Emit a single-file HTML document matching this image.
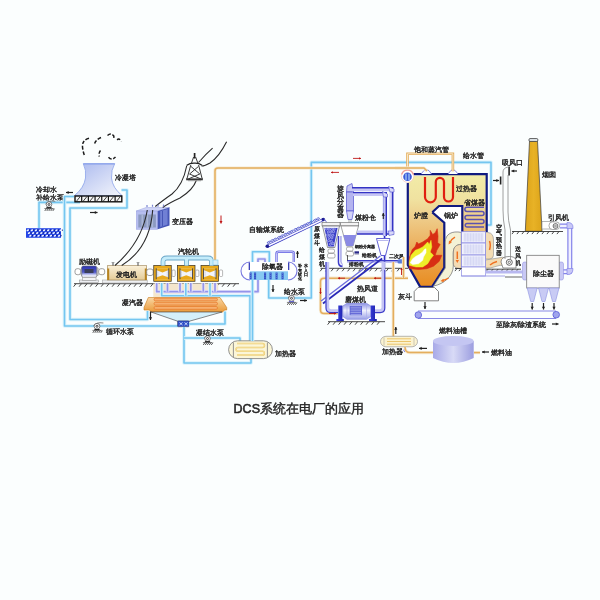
<!DOCTYPE html><html><head><meta charset="utf-8"><style>html,body{margin:0;padding:0;background:#fbfefe;}svg{display:block;font-family:"Liberation Sans",sans-serif;will-change:transform;}</style></head><body>
<svg width="600" height="600" viewBox="0 0 600 600">
<defs>
<linearGradient id="gTower" x1="0" y1="0" x2="1" y2="1"><stop offset="0" stop-color="#a9b8ee"/><stop offset="1" stop-color="#f4f6fc"/></linearGradient>
<linearGradient id="gGen" x1="0" y1="0" x2="0" y2="1"><stop offset="0" stop-color="#faf0d8"/><stop offset="1" stop-color="#e4cc98"/></linearGradient>
<linearGradient id="gCond" x1="0" y1="0" x2="0" y2="1"><stop offset="0" stop-color="#f9d7a4"/><stop offset="1" stop-color="#ea9a3a"/></linearGradient>
<linearGradient id="gBoil" x1="0" y1="0" x2="0" y2="1"><stop offset="0" stop-color="#f2eca8"/><stop offset="0.22" stop-color="#f0e2a0"/><stop offset="0.4" stop-color="#eecb88"/><stop offset="0.7" stop-color="#eba852"/><stop offset="1" stop-color="#e88c20"/></linearGradient>
<linearGradient id="gFurn" x1="0" y1="0" x2="0" y2="1"><stop offset="0" stop-color="#f0d898" stop-opacity="0"/><stop offset="0.15" stop-color="#f0c080"/><stop offset="1" stop-color="#e88a1c"/></linearGradient>
<linearGradient id="gTank" x1="0" y1="0" x2="1" y2="0"><stop offset="0" stop-color="#a8aae8"/><stop offset="0.5" stop-color="#d8daf6"/><stop offset="1" stop-color="#9c9ee0"/></linearGradient>
<linearGradient id="gChim" x1="0" y1="0" x2="1" y2="0"><stop offset="0" stop-color="#dca41a"/><stop offset="0.5" stop-color="#e8b226"/><stop offset="1" stop-color="#dca41a"/></linearGradient>
<linearGradient id="gTrans" x1="0" y1="0" x2="0" y2="1"><stop offset="0" stop-color="#c8ccf4"/><stop offset="1" stop-color="#a8b0e8"/></linearGradient>
</defs>
<rect width="600" height="600" fill="#fbfefe"/>
<g fill="none" stroke="#1a1a1a" stroke-width="1.5" stroke-dasharray="3.6 1.8"><path d="M89 138.3 Q82 140 82.5 147 Q83 152 84.7 156"/><path d="M101 137.5 Q95 140 94.3 145"/><path d="M100.5 150.5 Q98.5 153 99.3 156.5"/><path d="M107.5 135.5 Q111 132.5 113.8 136 L114 139"/><path d="M117.2 140 Q119 137.5 121.5 141.5"/><path d="M108.5 157.3 Q111.5 161 115.5 157"/></g>
<path d="M83.3 163.7 L114.7 163.7 Q111 170 111.5 178 Q112.5 188 122 195.5 L74.5 195.5 Q84 188 85.5 178 Q86.5 170 83.3 163.7 Z" fill="url(#gTower)" stroke="#8aa2ea" stroke-width="0.8"/>
<path d="M83.3 163.9 L114.7 163.9" stroke="#8aa2ea" stroke-width="1.2"/>
<text x="115" y="179.5" font-size="7" fill="#222" stroke="#222" stroke-width="0.35" text-anchor="start" font-weight="normal">冷凝塔</text>
<text x="35.5" y="191.5" font-size="6.8" fill="#222" stroke="#222" stroke-width="0.35" text-anchor="start" font-weight="normal">冷却水</text>
<text x="35.5" y="199.5" font-size="6.8" fill="#222" stroke="#222" stroke-width="0.35" text-anchor="start" font-weight="normal">补给水泵</text>
<line x1="73" y1="192.5" x2="66" y2="192.5" stroke="#222" stroke-width="1.2"/><path d="M66 192.5L68.70 194.12L68.70 190.88Z" fill="#222"/>
<line x1="90" y1="212.5" x2="97.5" y2="212.5" stroke="#222" stroke-width="1.2"/><path d="M97.5 212.5L94.80 210.88L94.80 214.12Z" fill="#222"/>
<rect x="26" y="228.2" width="35" height="9.6" fill="#2446e6"/><ellipse cx="27.8" cy="230.3" rx="1.4" ry="0.8" fill="#f0f4ff" transform="rotate(-30 27.8 230.3)"/><rect x="29.1" y="229.5" width="1.1" height="1.4" fill="#0a1480"/><ellipse cx="31.9" cy="230.3" rx="1.4" ry="0.8" fill="#f0f4ff" transform="rotate(-30 31.9 230.3)"/><rect x="33.2" y="229.5" width="1.1" height="1.4" fill="#0a1480"/><ellipse cx="36.0" cy="230.3" rx="1.4" ry="0.8" fill="#f0f4ff" transform="rotate(-30 36.0 230.3)"/><rect x="37.3" y="229.5" width="1.1" height="1.4" fill="#0a1480"/><ellipse cx="40.1" cy="230.3" rx="1.4" ry="0.8" fill="#f0f4ff" transform="rotate(-30 40.1 230.3)"/><rect x="41.4" y="229.5" width="1.1" height="1.4" fill="#0a1480"/><ellipse cx="44.2" cy="230.3" rx="1.4" ry="0.8" fill="#f0f4ff" transform="rotate(-30 44.2 230.3)"/><rect x="45.5" y="229.5" width="1.1" height="1.4" fill="#0a1480"/><ellipse cx="48.3" cy="230.3" rx="1.4" ry="0.8" fill="#f0f4ff" transform="rotate(-30 48.3 230.3)"/><rect x="49.6" y="229.5" width="1.1" height="1.4" fill="#0a1480"/><ellipse cx="52.4" cy="230.3" rx="1.4" ry="0.8" fill="#f0f4ff" transform="rotate(-30 52.4 230.3)"/><rect x="53.7" y="229.5" width="1.1" height="1.4" fill="#0a1480"/><ellipse cx="56.5" cy="230.3" rx="1.4" ry="0.8" fill="#f0f4ff" transform="rotate(-30 56.5 230.3)"/><rect x="57.8" y="229.5" width="1.1" height="1.4" fill="#0a1480"/><ellipse cx="60.6" cy="230.3" rx="1.4" ry="0.8" fill="#f0f4ff" transform="rotate(-30 60.6 230.3)"/><rect x="61.9" y="229.5" width="1.1" height="1.4" fill="#0a1480"/><ellipse cx="29.1" cy="233.0" rx="1.4" ry="0.8" fill="#f0f4ff" transform="rotate(-30 29.1 233.0)"/><rect x="30.4" y="232.2" width="1.1" height="1.4" fill="#0a1480"/><ellipse cx="33.2" cy="233.0" rx="1.4" ry="0.8" fill="#f0f4ff" transform="rotate(-30 33.2 233.0)"/><rect x="34.5" y="232.2" width="1.1" height="1.4" fill="#0a1480"/><ellipse cx="37.3" cy="233.0" rx="1.4" ry="0.8" fill="#f0f4ff" transform="rotate(-30 37.3 233.0)"/><rect x="38.6" y="232.2" width="1.1" height="1.4" fill="#0a1480"/><ellipse cx="41.4" cy="233.0" rx="1.4" ry="0.8" fill="#f0f4ff" transform="rotate(-30 41.4 233.0)"/><rect x="42.7" y="232.2" width="1.1" height="1.4" fill="#0a1480"/><ellipse cx="45.5" cy="233.0" rx="1.4" ry="0.8" fill="#f0f4ff" transform="rotate(-30 45.5 233.0)"/><rect x="46.8" y="232.2" width="1.1" height="1.4" fill="#0a1480"/><ellipse cx="49.6" cy="233.0" rx="1.4" ry="0.8" fill="#f0f4ff" transform="rotate(-30 49.6 233.0)"/><rect x="50.9" y="232.2" width="1.1" height="1.4" fill="#0a1480"/><ellipse cx="53.7" cy="233.0" rx="1.4" ry="0.8" fill="#f0f4ff" transform="rotate(-30 53.7 233.0)"/><rect x="55.0" y="232.2" width="1.1" height="1.4" fill="#0a1480"/><ellipse cx="57.8" cy="233.0" rx="1.4" ry="0.8" fill="#f0f4ff" transform="rotate(-30 57.8 233.0)"/><rect x="59.1" y="232.2" width="1.1" height="1.4" fill="#0a1480"/><ellipse cx="30.4" cy="235.7" rx="1.4" ry="0.8" fill="#f0f4ff" transform="rotate(-30 30.4 235.7)"/><rect x="31.7" y="234.9" width="1.1" height="1.4" fill="#0a1480"/><ellipse cx="34.5" cy="235.7" rx="1.4" ry="0.8" fill="#f0f4ff" transform="rotate(-30 34.5 235.7)"/><rect x="35.8" y="234.9" width="1.1" height="1.4" fill="#0a1480"/><ellipse cx="38.6" cy="235.7" rx="1.4" ry="0.8" fill="#f0f4ff" transform="rotate(-30 38.6 235.7)"/><rect x="39.9" y="234.9" width="1.1" height="1.4" fill="#0a1480"/><ellipse cx="42.7" cy="235.7" rx="1.4" ry="0.8" fill="#f0f4ff" transform="rotate(-30 42.7 235.7)"/><rect x="44.0" y="234.9" width="1.1" height="1.4" fill="#0a1480"/><ellipse cx="46.8" cy="235.7" rx="1.4" ry="0.8" fill="#f0f4ff" transform="rotate(-30 46.8 235.7)"/><rect x="48.1" y="234.9" width="1.1" height="1.4" fill="#0a1480"/><ellipse cx="50.9" cy="235.7" rx="1.4" ry="0.8" fill="#f0f4ff" transform="rotate(-30 50.9 235.7)"/><rect x="52.2" y="234.9" width="1.1" height="1.4" fill="#0a1480"/><ellipse cx="55.0" cy="235.7" rx="1.4" ry="0.8" fill="#f0f4ff" transform="rotate(-30 55.0 235.7)"/><rect x="56.3" y="234.9" width="1.1" height="1.4" fill="#0a1480"/><ellipse cx="59.1" cy="235.7" rx="1.4" ry="0.8" fill="#f0f4ff" transform="rotate(-30 59.1 235.7)"/><rect x="60.4" y="234.9" width="1.1" height="1.4" fill="#0a1480"/>
<path d="M39 228 L39 202.4 L80 202.4" fill="none" stroke="#daf2fb" stroke-width="3.6" stroke-linejoin="round"/><path d="M39 228 L39 202.4 L80 202.4" fill="none" stroke="#74c6f0" stroke-width="1.6" stroke-linejoin="round"/>
<path d="M74 196.5 L64.5 196.5 L64.5 326 L178 326" fill="none" stroke="#daf2fb" stroke-width="3.6" stroke-linejoin="round"/><path d="M74 196.5 L64.5 196.5 L64.5 326 L178 326" fill="none" stroke="#74c6f0" stroke-width="1.6" stroke-linejoin="round"/>
<path d="M121.5 190 L127 190 L127 208 L70 208 L70 319.5 L147.5 319.5 L147.5 311" fill="none" stroke="#daf2fb" stroke-width="3.6" stroke-linejoin="round"/><path d="M121.5 190 L127 190 L127 208 L70 208 L70 319.5 L147.5 319.5 L147.5 311" fill="none" stroke="#74c6f0" stroke-width="1.6" stroke-linejoin="round"/>
<path d="M45.7 204.2 Q48 200.1 55.3 201.29999999999998" fill="none" stroke="#666" stroke-width="0.8"/><circle cx="49" cy="204.5" r="2.8" fill="#f8f9fb" stroke="#555" stroke-width="0.75"/><circle cx="49" cy="204.5" r="1.0" fill="none" stroke="#222" stroke-width="0.8"/><rect x="46.4" y="207.10000000000002" width="5.2" height="1.3" fill="#222"/><path d="M44.4 208.5 L53.8 208.5" stroke="#333" stroke-width="0.6"/><path d="M46.4 208.7l-1.6 2.2M48.4 208.7l-1.6 2.2M50.4 208.7l-1.6 2.2M52.4 208.7l-1.6 2.2M54.4 208.7l-1.6 2.2" stroke="#222" stroke-width="0.8" fill="none"/>
<rect x="75" y="196" width="46.8" height="5.8" fill="#f4f4f4" stroke="#111" stroke-width="1.4"/><line x1="76.50" y1="201.2" x2="80.20" y2="196.6" stroke="#111" stroke-width="0.8"/><line x1="81.69" y1="196" x2="81.69" y2="201.8" stroke="#111" stroke-width="1.2"/><line x1="83.19" y1="201.2" x2="86.89" y2="196.6" stroke="#111" stroke-width="0.8"/><line x1="88.37" y1="196" x2="88.37" y2="201.8" stroke="#111" stroke-width="1.2"/><line x1="89.87" y1="201.2" x2="93.57" y2="196.6" stroke="#111" stroke-width="0.8"/><line x1="95.06" y1="196" x2="95.06" y2="201.8" stroke="#111" stroke-width="1.2"/><line x1="96.56" y1="201.2" x2="100.26" y2="196.6" stroke="#111" stroke-width="0.8"/><line x1="101.74" y1="196" x2="101.74" y2="201.8" stroke="#111" stroke-width="1.2"/><line x1="103.24" y1="201.2" x2="106.94" y2="196.6" stroke="#111" stroke-width="0.8"/><line x1="108.43" y1="196" x2="108.43" y2="201.8" stroke="#111" stroke-width="1.2"/><line x1="109.93" y1="201.2" x2="113.63" y2="196.6" stroke="#111" stroke-width="0.8"/><line x1="115.11" y1="196" x2="115.11" y2="201.8" stroke="#111" stroke-width="1.2"/><line x1="116.61" y1="201.2" x2="120.31" y2="196.6" stroke="#111" stroke-width="0.8"/>
<path d="M93.6 326.0 Q96 321.8 103.4 323.00000000000006" fill="none" stroke="#666" stroke-width="0.8"/><circle cx="97" cy="326.3" r="2.9" fill="#f8f9fb" stroke="#555" stroke-width="0.75"/><circle cx="97" cy="326.3" r="1.0" fill="none" stroke="#222" stroke-width="0.8"/><rect x="94.4" y="329.0" width="5.2" height="1.3" fill="#222"/><path d="M92.4 330.4 L101.8 330.4" stroke="#333" stroke-width="0.6"/><path d="M94.4 330.6l-1.6 2.2M96.4 330.6l-1.6 2.2M98.4 330.6l-1.6 2.2M100.4 330.6l-1.6 2.2M102.4 330.6l-1.6 2.2" stroke="#222" stroke-width="0.8" fill="none"/>
<text x="106" y="334" font-size="6.8" fill="#222" stroke="#222" stroke-width="0.35" text-anchor="start" font-weight="normal">循环水泵</text>
<line x1="74" y1="283.7" x2="239" y2="283.7" stroke="#333" stroke-width="0.9"/><path d="M76.0 283.7l-2.4 3.0M81.5 283.7l-2.4 3.0M87.0 283.7l-2.4 3.0M92.5 283.7l-2.4 3.0M98.0 283.7l-2.4 3.0M103.5 283.7l-2.4 3.0M109.0 283.7l-2.4 3.0M114.5 283.7l-2.4 3.0M120.0 283.7l-2.4 3.0M125.5 283.7l-2.4 3.0M131.0 283.7l-2.4 3.0M136.5 283.7l-2.4 3.0M142.0 283.7l-2.4 3.0M147.5 283.7l-2.4 3.0M153.0 283.7l-2.4 3.0M158.5 283.7l-2.4 3.0M164.0 283.7l-2.4 3.0M169.5 283.7l-2.4 3.0M175.0 283.7l-2.4 3.0M180.5 283.7l-2.4 3.0M186.0 283.7l-2.4 3.0M191.5 283.7l-2.4 3.0M197.0 283.7l-2.4 3.0M202.5 283.7l-2.4 3.0M208.0 283.7l-2.4 3.0M213.5 283.7l-2.4 3.0M219.0 283.7l-2.4 3.0M224.5 283.7l-2.4 3.0M230.0 283.7l-2.4 3.0M235.5 283.7l-2.4 3.0" stroke="#333" stroke-width="0.9" fill="none"/>
<defs><linearGradient id="gExc" x1="0" y1="0" x2="0" y2="1"><stop offset="0" stop-color="#2c34b0"/><stop offset="0.55" stop-color="#5058c8"/><stop offset="0.8" stop-color="#d8dcf6"/><stop offset="1" stop-color="#ffffff"/></linearGradient></defs>
<rect x="79.3" y="280" width="19" height="2.6" fill="#eceef2" stroke="#888" stroke-width="0.5"/>
<rect x="82.5" y="276.5" width="13.5" height="3.8" fill="#f4f4f6" stroke="#888" stroke-width="0.5"/>
<rect x="75" y="268.7" width="5.7" height="6" rx="2.2" fill="#fff" stroke="#777" stroke-width="0.7"/>
<path d="M80.5 269.5 L82 267.5 L82 276 L80.5 274 Z M97.5 267.5 L99 269.5 L99 274 L97.5 276 Z" fill="#f0f0f4" stroke="#888" stroke-width="0.5"/>
<rect x="81.7" y="266" width="15" height="11.3" rx="1.5" fill="url(#gExc)" stroke="#666" stroke-width="0.6"/>
<rect x="84.5" y="269" width="9" height="4" fill="#3a3e5a"/>
<rect x="98.7" y="268.7" width="6" height="6" rx="2.2" fill="#fff" stroke="#777" stroke-width="0.7"/>
<text x="79" y="264" font-size="6.8" fill="#222" stroke="#222" stroke-width="0.35" text-anchor="start" font-weight="normal">励磁机</text>
<rect x="102.7" y="280" width="44.5" height="3" fill="#eef0f2" stroke="#999" stroke-width="0.5"/>
<rect x="107.3" y="265.7" width="39.4" height="14.3" fill="url(#gGen)" stroke="#9a8050" stroke-width="0.6"/>
<rect x="107.3" y="268.5" width="1.9" height="11.5" fill="#b88420"/>
<rect x="144.8" y="268.5" width="1.9" height="11.5" fill="#b88420"/>
<path d="M113 265.7 l0 -3.5 M138 265.7 l0 -3.5" stroke="#666" stroke-width="1.2"/>
<path d="M111.5 262.5 l3 0 M136.5 262.5 l3 0" stroke="#888" stroke-width="0.6"/>
<text x="126.8" y="276.5" font-size="6.8" fill="#222" stroke="#222" stroke-width="0.35" text-anchor="middle" font-weight="normal">发电机</text>
<rect x="146.7" y="269" width="6.5" height="6.5" rx="2.2" fill="#fff" stroke="#777" stroke-width="0.7"/>
<rect x="153.75" y="265.4" width="17.5" height="15.9" fill="#e9aa1c" stroke="#3a3020" stroke-width="0.7"/><rect x="156.25" y="268.3" width="12.5" height="10.899999999999977" fill="#f2f4fb"/><path d="M156.25 268.3 L168.75 268.3 L168.75 269.90000000000003 L162.5 272.6 L156.25 269.90000000000003 Z" fill="#e9aa1c"/><path d="M156.25 279.2 L168.75 279.2 L168.75 277.59999999999997 L162.5 275.2 L156.25 277.59999999999997 Z" fill="#e9aa1c"/><path d="M156.25 268.3 L156.25 279.2 M168.75 268.3 L168.75 279.2" stroke="#2a3040" stroke-width="0.8"/><path d="M157.75 270.5 l0 6.5 M167.25 270.5 l0 6.5" stroke="#8890a0" stroke-width="0.6" stroke-dasharray="0.9 1.1"/>
<rect x="177.5" y="265.4" width="17.5" height="15.9" fill="#e9aa1c" stroke="#3a3020" stroke-width="0.7"/><rect x="180.0" y="268.3" width="12.5" height="10.899999999999977" fill="#f2f4fb"/><path d="M180.0 268.3 L192.5 268.3 L192.5 269.90000000000003 L186.25 272.6 L180.0 269.90000000000003 Z" fill="#e9aa1c"/><path d="M180.0 279.2 L192.5 279.2 L192.5 277.59999999999997 L186.25 275.2 L180.0 277.59999999999997 Z" fill="#e9aa1c"/><path d="M180.0 268.3 L180.0 279.2 M192.5 268.3 L192.5 279.2" stroke="#2a3040" stroke-width="0.8"/><path d="M181.5 270.5 l0 6.5 M191.0 270.5 l0 6.5" stroke="#8890a0" stroke-width="0.6" stroke-dasharray="0.9 1.1"/>
<rect x="201.0" y="265.4" width="17.5" height="15.9" fill="#e9aa1c" stroke="#3a3020" stroke-width="0.7"/><rect x="203.5" y="268.3" width="12.5" height="10.899999999999977" fill="#f2f4fb"/><path d="M203.5 268.3 L216.0 268.3 L216.0 269.90000000000003 L209.75 272.6 L203.5 269.90000000000003 Z" fill="#e9aa1c"/><path d="M203.5 279.2 L216.0 279.2 L216.0 277.59999999999997 L209.75 275.2 L203.5 277.59999999999997 Z" fill="#e9aa1c"/><path d="M203.5 268.3 L203.5 279.2 M216.0 268.3 L216.0 279.2" stroke="#2a3040" stroke-width="0.8"/><path d="M205.0 270.5 l0 6.5 M214.5 270.5 l0 6.5" stroke="#8890a0" stroke-width="0.6" stroke-dasharray="0.9 1.1"/>
<rect x="172.0" y="270" width="3.2" height="6.5" rx="1" fill="#fff" stroke="#888" stroke-width="0.6"/>
<rect x="195.70000000000002" y="270" width="3.2" height="6.5" rx="1" fill="#fff" stroke="#888" stroke-width="0.6"/>
<rect x="219.4" y="270" width="3.2" height="6.5" rx="1" fill="#fff" stroke="#888" stroke-width="0.6"/>
<text x="177.5" y="253.5" font-size="6.8" fill="#222" stroke="#222" stroke-width="0.35" text-anchor="start" font-weight="normal">汽轮机</text>
<path d="M163 265.5 L163 261.5 Q163 258 167 258 L208 258 Q211.5 258 211.5 261.5 L211.5 265.5 M186.5 258 L186.5 265.5" fill="none" stroke="#6aa6c8" stroke-width="4.8"/>
<path d="M163 265.5 L163 261.5 Q163 258 167 258 L208 258 Q211.5 258 211.5 261.5 L211.5 265.5 M186.5 258 L186.5 265.5" fill="none" stroke="#c4ecfa" stroke-width="3.2"/>
<rect x="153.3" y="283.5" width="65" height="13.5" fill="#f4e6cc"/>
<path d="M156.7 283 L156.7 291.7 L258 291.7 L258 259 L265 259 L265 265" fill="none" stroke="#e6e6fa" stroke-width="3.6" stroke-linejoin="round"/><path d="M156.7 283 L156.7 291.7 L258 291.7 L258 259 L265 259 L265 265" fill="none" stroke="#9494ea" stroke-width="1.7" stroke-linejoin="round"/>
<path d="M167.5 283 L167.5 291.7" fill="none" stroke="#e6e6fa" stroke-width="3.6" stroke-linejoin="round"/><path d="M167.5 283 L167.5 291.7" fill="none" stroke="#9494ea" stroke-width="1.7" stroke-linejoin="round"/>
<path d="M180 283 L180 291.7" fill="none" stroke="#e6e6fa" stroke-width="3.6" stroke-linejoin="round"/><path d="M180 283 L180 291.7" fill="none" stroke="#9494ea" stroke-width="1.7" stroke-linejoin="round"/>
<path d="M190.8 283 L190.8 291.7" fill="none" stroke="#e6e6fa" stroke-width="3.6" stroke-linejoin="round"/><path d="M190.8 283 L190.8 291.7" fill="none" stroke="#9494ea" stroke-width="1.7" stroke-linejoin="round"/>
<path d="M203.3 283 L203.3 291.7" fill="none" stroke="#e6e6fa" stroke-width="3.6" stroke-linejoin="round"/><path d="M203.3 283 L203.3 291.7" fill="none" stroke="#9494ea" stroke-width="1.7" stroke-linejoin="round"/>
<path d="M215 283 L215 291.7" fill="none" stroke="#e6e6fa" stroke-width="3.6" stroke-linejoin="round"/><path d="M215 283 L215 291.7" fill="none" stroke="#9494ea" stroke-width="1.7" stroke-linejoin="round"/>
<path d="M161.7 283 L161.7 295.8 L250 295.8 L250 341" fill="none" stroke="#daf2fb" stroke-width="3.6" stroke-linejoin="round"/><path d="M161.7 283 L161.7 295.8 L250 295.8 L250 341" fill="none" stroke="#74c6f0" stroke-width="1.6" stroke-linejoin="round"/>
<path d="M185.8 283 L185.8 295.8" fill="none" stroke="#daf2fb" stroke-width="3.6" stroke-linejoin="round"/><path d="M185.8 283 L185.8 295.8" fill="none" stroke="#74c6f0" stroke-width="1.6" stroke-linejoin="round"/>
<path d="M210 283 L210 295.8" fill="none" stroke="#daf2fb" stroke-width="3.6" stroke-linejoin="round"/><path d="M210 283 L210 295.8" fill="none" stroke="#74c6f0" stroke-width="1.6" stroke-linejoin="round"/>
<path d="M148.3 297.5 L220 297.5 L226.7 307.5 L226.7 310 L224.5 310 L223 312 L151 312 L149.5 310 L144 310 L144 307.5 Z" fill="url(#gCond)" stroke="#c87818" stroke-width="0.6"/>
<rect x="154" y="298.09999999999997" width="63.5" height="2.8" rx="1.4" fill="#f6b070" stroke="#e77e30" stroke-width="0.8"/>
<rect x="154" y="302.3" width="63.5" height="2.8" rx="1.4" fill="#f6b070" stroke="#e77e30" stroke-width="0.8"/>
<rect x="154" y="306.5" width="63.5" height="2.8" rx="1.4" fill="#f6b070" stroke="#e77e30" stroke-width="0.8"/>
<path d="M151 312 L222 312 L186.5 322 L180 322 Z" fill="#d4f0fa" stroke="#555" stroke-width="0.7"/>
<rect x="177.5" y="320.8" width="11.7" height="6" rx="1" fill="#2f4fc8" stroke="#223" stroke-width="0.4"/>
<path d="M179.5 322.5 l3 2.5 M182.5 322.5 l-3 2.5 M184.5 322.5 l3 2.5 M187.5 322.5 l-3 2.5" stroke="#e8f0ff" stroke-width="0.8" fill="none"/>
<line x1="150.5" y1="311.5" x2="150.5" y2="320" stroke="#222" stroke-width="1.2"/><path d="M150.5 320L152.12 317.30L148.88 317.30Z" fill="#222"/>
<path d="M225 311.5 L225 324 L189 324" fill="none" stroke="#daf2fb" stroke-width="3.6" stroke-linejoin="round"/><path d="M225 311.5 L225 324 L189 324" fill="none" stroke="#74c6f0" stroke-width="1.6" stroke-linejoin="round"/>
<text x="121.7" y="304.5" font-size="6.8" fill="#222" stroke="#222" stroke-width="0.35" text-anchor="start" font-weight="normal">凝汽器</text>
<path d="M184 327 L184 363 L251 363 L251 358" fill="none" stroke="#daf2fb" stroke-width="3.6" stroke-linejoin="round"/><path d="M184 327 L184 363 L251 363 L251 358" fill="none" stroke="#74c6f0" stroke-width="1.6" stroke-linejoin="round"/>
<path d="M184 338 L240 338 L240 342" fill="none" stroke="#daf2fb" stroke-width="3.6" stroke-linejoin="round"/><path d="M184 338 L240 338 L240 342" fill="none" stroke="#74c6f0" stroke-width="1.6" stroke-linejoin="round"/>
<path d="M204.2 338.2 Q206.5 334.09999999999997 213.8 335.3" fill="none" stroke="#666" stroke-width="0.8"/><circle cx="207.5" cy="338.5" r="2.8" fill="#f8f9fb" stroke="#555" stroke-width="0.75"/><circle cx="207.5" cy="338.5" r="1.0" fill="none" stroke="#222" stroke-width="0.8"/><rect x="204.9" y="341.1" width="5.2" height="1.3" fill="#222"/><path d="M202.9 342.5 L212.3 342.5" stroke="#333" stroke-width="0.6"/><path d="M204.9 342.7l-1.6 2.2M206.9 342.7l-1.6 2.2M208.9 342.7l-1.6 2.2M210.9 342.7l-1.6 2.2M212.9 342.7l-1.6 2.2" stroke="#222" stroke-width="0.8" fill="none"/>
<text x="196" y="334.5" font-size="6.8" fill="#222" stroke="#222" stroke-width="0.35" text-anchor="start" font-weight="normal">凝结水泵</text>
<path d="M237.5 340.8 L263.5 340.8 A8.9 8.9 0 0 1 263.5 358.6 L237.5 358.6 A8.9 8.9 0 0 1 237.5 340.8 Z" fill="#fbf6d8" stroke="#777" stroke-width="0.8"/>
<path d="M233.4 342.5 L233.4 357 M267.4 342.5 L267.4 357" stroke="#888" stroke-width="0.9"/>
<path d="M237 343.5 L262.5 343.5 A1.95 1.95 0 0 1 262.5 347.4 L238 347.4 A1.95 1.95 0 0 0 238 351.3 L262.5 351.3 A1.85 1.85 0 0 1 262.5 355 L237 355" fill="none" stroke="#ecc868" stroke-width="1.5"/>
<path d="M237 343.5 L262.5 343.5 A1.95 1.95 0 0 1 262.5 347.4 L238 347.4 A1.95 1.95 0 0 0 238 351.3 L262.5 351.3 A1.85 1.85 0 0 1 262.5 355 L237 355" fill="none" stroke="#fbf0c0" stroke-width="0.5"/>
<text x="275" y="356" font-size="6.8" fill="#222" stroke="#222" stroke-width="0.35" text-anchor="start" font-weight="normal">加热器</text>
<path d="M136.3 211 L146 207.5 L169.5 207.5 L157.7 211 Z" fill="#cdd3f6" stroke="#98a0e0" stroke-width="0.5"/>
<rect x="136.3" y="211" width="21.4" height="18.3" fill="#b6bef0" stroke="#98a0e0" stroke-width="0.5"/>
<rect x="138.3" y="214.5" width="17.6" height="13" fill="#8c9ac0"/>
<rect x="141.5" y="214.5" width="1.6" height="13" fill="#aab6d6"/>
<rect x="146.5" y="214.5" width="1.6" height="13" fill="#aab6d6"/>
<rect x="151.5" y="214.5" width="1.6" height="13" fill="#aab6d6"/>
<path d="M157.7 211 L169.5 207.5 L169.5 225.5 L157.7 229.3 Z" fill="#4656b6"/>
<path d="M160.2 211.3 L167.6 209 L167.6 224.5 L160.2 227 Z" fill="#7080d4"/>
<path d="M162.5 210.8 L162.5 226.3" stroke="#4656b6" stroke-width="1"/>
<text x="172" y="223.5" font-size="7" fill="#222" stroke="#222" stroke-width="0.35" text-anchor="start" font-weight="normal">变压器</text>
<g fill="none" stroke="#2a2a2a" stroke-width="1.1"><path d="M212.6 148.2 Q206 154 198.5 162.5"/><path d="M226.6 141.8 Q219 157 210 163 Q205 166 201.5 166"/><path d="M186.8 165.5 Q183 185 172 194 Q162 201 155.3 206.5"/><path d="M196.5 180 Q193 190 180 198 Q169 203 162.7 207.5"/><path d="M147.3 210 Q142 242 115 265.5"/><path d="M152.7 210 Q150 248 121.7 265.5"/></g>
<g fill="none" stroke="#222" stroke-width="0.9" stroke-linejoin="round"><path d="M194.6 153 L194.6 158.5" stroke-width="1.7"/><path d="M193.6 157 L191.2 164 M195.6 157 L198.2 164"/><path d="M186.8 165.3 Q190 163 194.6 163.2 Q199 163 202 165.3" stroke-width="1.2"/><path d="M190.8 165 L186.8 179.3 M198.6 165 L202.3 179.3"/><path d="M191 166.5 L199.8 174 L188.2 179 M198.4 166.5 L189.6 174 L201 179"/></g>
<rect x="186.2" y="178.4" width="16.6" height="1.9" fill="#333"/>
<rect x="188" y="180.2" width="13" height="1" fill="#999"/>
<path d="M147 207 l0 -2 M152.5 206.8 l0 -2 M158 206.7 l0 -2 M163.5 206.6 l0 -2" stroke="#7a84d0" stroke-width="1.2"/>
<path d="M268.7 280 L268.7 298 L311.3 298 L311.3 162.4 L491 162.4 L491 225 L487 225" fill="none" stroke="#daf2fb" stroke-width="3.6" stroke-linejoin="round"/><path d="M268.7 280 L268.7 298 L311.3 298 L311.3 162.4 L491 162.4 L491 225 L487 225" fill="none" stroke="#74c6f0" stroke-width="1.6" stroke-linejoin="round"/>
<path d="M215 260 L215 171 Q215 168 218 168 L407 168" fill="none" stroke="#f6ead2" stroke-width="3.2" stroke-linejoin="round"/><path d="M215 260 L215 171 Q215 168 218 168 L407 168" fill="none" stroke="#e4ae5e" stroke-width="1.5" stroke-linejoin="round"/>
<rect x="213" y="260" width="5" height="5" fill="#d6f0fb" stroke="#7cc8ee" stroke-width="0.6"/>
<line x1="221" y1="215.5" x2="221" y2="223.5" stroke="#c01818" stroke-width="1.0"/><path d="M221 223.5L222.56 220.90L219.44 220.90Z" fill="#c01818"/>
<path d="M252.5 341 L252.5 251.8 L269.3 251.8 L269.3 262" fill="none" stroke="#daf2fb" stroke-width="3.6" stroke-linejoin="round"/><path d="M252.5 341 L252.5 251.8 L269.3 251.8 L269.3 262" fill="none" stroke="#74c6f0" stroke-width="1.6" stroke-linejoin="round"/>
<path d="M276.5 263 L276.5 253.5 Q276.5 251.7 278.5 251.7 L292 251.7 Q293.8 251.7 293.8 253.5 L293.8 262" fill="none" stroke="#6c6ce4" stroke-width="2.4"/><path d="M276.5 263 L276.5 253.5 Q276.5 251.7 278.5 251.7 L292 251.7 Q293.8 251.7 293.8 253.5 L293.8 262" fill="none" stroke="#dcdcfa" stroke-width="0.8"/>
<path d="M250 262 L288 262 A9 9 0 0 1 288 280 L250 280 A9 9 0 0 1 250 262 Z" fill="#fff" stroke="none"/>
<path d="M250 262 A9 9 0 0 0 250 280 M288 262 A9 9 0 0 1 288 280" fill="none" stroke="#7a7ae0" stroke-width="1.1"/>
<path d="M249.3 262.5 L249.3 270 M288.7 262.5 L288.7 270" stroke="#2830b0" stroke-width="1.2"/>
<rect x="250" y="271.3" width="38" height="8.7" fill="#86c8f2"/>
<rect x="249.5" y="272.5" width="2.1" height="6.8" fill="#3452c8"/>
<line x1="250.5" y1="273" x2="250.5" y2="279" stroke="#8ab0f0" stroke-width="0.4" stroke-dasharray="1 1"/>
<rect x="254" y="272.5" width="2.1" height="6.8" fill="#3452c8"/>
<line x1="255" y1="273" x2="255" y2="279" stroke="#8ab0f0" stroke-width="0.4" stroke-dasharray="1 1"/>
<rect x="264" y="272.5" width="2.1" height="6.8" fill="#3452c8"/>
<line x1="265" y1="273" x2="265" y2="279" stroke="#8ab0f0" stroke-width="0.4" stroke-dasharray="1 1"/>
<rect x="269.5" y="272.5" width="2.1" height="6.8" fill="#3452c8"/>
<line x1="270.5" y1="273" x2="270.5" y2="279" stroke="#8ab0f0" stroke-width="0.4" stroke-dasharray="1 1"/>
<rect x="275.5" y="272.5" width="2.1" height="6.8" fill="#3452c8"/>
<line x1="276.5" y1="273" x2="276.5" y2="279" stroke="#8ab0f0" stroke-width="0.4" stroke-dasharray="1 1"/>
<rect x="281.5" y="272.5" width="2.1" height="6.8" fill="#3452c8"/>
<line x1="282.5" y1="273" x2="282.5" y2="279" stroke="#8ab0f0" stroke-width="0.4" stroke-dasharray="1 1"/>
<text x="262" y="268.7" font-size="7.2" fill="#222" stroke="#222" stroke-width="0.35" text-anchor="start" font-weight="normal">除氧器</text>
<text x="284" y="294" font-size="7" fill="#222" stroke="#222" stroke-width="0.35" text-anchor="start" font-weight="normal">给水泵</text>
<path d="M288.1 298.0 Q290.5 293.8 297.9 295.00000000000006" fill="none" stroke="#666" stroke-width="0.8"/><circle cx="291.5" cy="298.3" r="2.9" fill="#f8f9fb" stroke="#555" stroke-width="0.75"/><circle cx="291.5" cy="298.3" r="1.0" fill="none" stroke="#222" stroke-width="0.8"/><rect x="288.9" y="301.0" width="5.2" height="1.3" fill="#6a6ad8"/><path d="M286.9 302.4 L296.3 302.4" stroke="#333" stroke-width="0.6"/><path d="M288.9 302.6l-1.6 2.2M290.9 302.6l-1.6 2.2M292.9 302.6l-1.6 2.2M294.9 302.6l-1.6 2.2M296.9 302.6l-1.6 2.2" stroke="#222" stroke-width="0.8" fill="none"/>
<line x1="300" y1="300.5" x2="307" y2="300.5" stroke="#222" stroke-width="1.2"/><path d="M307 300.5L304.30 298.88L304.30 302.12Z" fill="#222"/>
<line x1="273" y1="285" x2="273" y2="292" stroke="#222" stroke-width="1.2"/><path d="M273 292L274.62 289.30L271.38 289.30Z" fill="#222"/>
<line x1="297.5" y1="258" x2="297.5" y2="251" stroke="#222" stroke-width="1.2"/><path d="M297.5 251L295.88 253.70L299.12 253.70Z" fill="#222"/>
<text x="300.2" y="267.3" font-size="4.2" fill="#222" stroke="#222" stroke-width="0.35" text-anchor="middle" font-weight="normal">补</text><text x="300.2" y="271.5" font-size="4.2" fill="#222" stroke="#222" stroke-width="0.35" text-anchor="middle" font-weight="normal">充</text><text x="300.2" y="275.7" font-size="4.2" fill="#222" stroke="#222" stroke-width="0.35" text-anchor="middle" font-weight="normal">软</text><text x="300.2" y="279.90000000000003" font-size="4.2" fill="#222" stroke="#222" stroke-width="0.35" text-anchor="middle" font-weight="normal">化</text>
<text x="305.5" y="267.3" font-size="4.2" fill="#222" stroke="#222" stroke-width="0.35" text-anchor="middle" font-weight="normal">水</text><text x="305.5" y="271.5" font-size="4.2" fill="#222" stroke="#222" stroke-width="0.35" text-anchor="middle" font-weight="normal">入</text><text x="305.5" y="275.7" font-size="4.2" fill="#222" stroke="#222" stroke-width="0.35" text-anchor="middle" font-weight="normal">口</text>
<path d="M267.3 246.3 L323.3 219.5" stroke="#3030c0" stroke-width="3.0"/>
<path d="M267.25683165320936 246.20979748431802 L323.25683165320936 219.409797484318" stroke="#f8f8ff" stroke-width="1.6"/>
<g fill="none" stroke="#4048c8" stroke-width="0.75"><ellipse cx="268.7" cy="242.3" rx="1.6" ry="0.8" transform="rotate(-26 268.7 242.3)"/><ellipse cx="272.0" cy="240.7" rx="1.6" ry="0.8" transform="rotate(-26 272.0 240.7)"/><ellipse cx="275.1" cy="239.2" rx="1.6" ry="0.8" transform="rotate(-26 275.1 239.2)"/><ellipse cx="278.8" cy="237.5" rx="1.6" ry="0.8" transform="rotate(-26 278.8 237.5)"/><ellipse cx="281.8" cy="236.0" rx="1.6" ry="0.8" transform="rotate(-26 281.8 236.0)"/><ellipse cx="285.3" cy="234.3" rx="1.6" ry="0.8" transform="rotate(-26 285.3 234.3)"/><ellipse cx="288.7" cy="232.7" rx="1.6" ry="0.8" transform="rotate(-26 288.7 232.7)"/><ellipse cx="291.6" cy="231.3" rx="1.6" ry="0.8" transform="rotate(-26 291.6 231.3)"/><ellipse cx="295.2" cy="229.6" rx="1.6" ry="0.8" transform="rotate(-26 295.2 229.6)"/><ellipse cx="298.1" cy="228.2" rx="1.6" ry="0.8" transform="rotate(-26 298.1 228.2)"/><ellipse cx="301.5" cy="226.6" rx="1.6" ry="0.8" transform="rotate(-26 301.5 226.6)"/><ellipse cx="304.5" cy="225.2" rx="1.6" ry="0.8" transform="rotate(-26 304.5 225.2)"/><ellipse cx="307.5" cy="223.7" rx="1.6" ry="0.8" transform="rotate(-26 307.5 223.7)"/><ellipse cx="310.9" cy="222.1" rx="1.6" ry="0.8" transform="rotate(-26 310.9 222.1)"/><ellipse cx="314.9" cy="220.2" rx="1.6" ry="0.8" transform="rotate(-26 314.9 220.2)"/><ellipse cx="317.9" cy="218.8" rx="1.6" ry="0.8" transform="rotate(-26 317.9 218.8)"/></g>
<circle cx="267.3" cy="246.3" r="1.8" fill="#1a1a90"/><circle cx="323.3" cy="219.5" r="1.8" fill="#1a1a90"/>
<path d="M323.8 219 Q327.5 221 326 226" stroke="#5a5ad0" stroke-width="0.9" fill="none"/>
<text x="249" y="231.5" font-size="6.8" fill="#222" stroke="#222" stroke-width="0.35" text-anchor="start" font-weight="normal">自输煤系统</text>
<line x1="339" y1="172.4" x2="331" y2="172.4" stroke="#c01818" stroke-width="0.9"/><path d="M331 172.4L333.00 173.60L333.00 171.20Z" fill="#c01818"/>
<line x1="353" y1="158.4" x2="361" y2="158.4" stroke="#c01818" stroke-width="0.9"/><path d="M361 158.4L359.00 157.20L359.00 159.60Z" fill="#c01818"/>
<line x1="320.5" y1="268.3" x2="408" y2="268.3" stroke="#333" stroke-width="0.9"/><path d="M322.5 268.3l-2.4 3.0M328.0 268.3l-2.4 3.0M333.5 268.3l-2.4 3.0M339.0 268.3l-2.4 3.0M344.5 268.3l-2.4 3.0M350.0 268.3l-2.4 3.0M355.5 268.3l-2.4 3.0M361.0 268.3l-2.4 3.0M366.5 268.3l-2.4 3.0M372.0 268.3l-2.4 3.0M377.5 268.3l-2.4 3.0M383.0 268.3l-2.4 3.0M388.5 268.3l-2.4 3.0M394.0 268.3l-2.4 3.0M399.5 268.3l-2.4 3.0M405.0 268.3l-2.4 3.0" stroke="#333" stroke-width="0.9" fill="none"/>
<rect x="322" y="222.3" width="18" height="3.6" fill="#f4f4f4" stroke="#666" stroke-width="0.6"/>
<path d="M322.5 226 L339.5 226 L334.8 247.5 L327.5 247.5 Z" fill="#eef0fc" stroke="#555" stroke-width="0.6"/>
<path d="M324.5 228 L337.5 228 L333.8 246.5 L328.3 246.5 Z" fill="#3a3ec8"/>
<g fill="none" stroke="#c8ccf8" stroke-width="0.6"><circle cx="326.5" cy="229.0" r="1.05"/><circle cx="329.1" cy="229.1" r="1.05"/><circle cx="331.7" cy="229.4" r="1.05"/><circle cx="334.3" cy="229.0" r="1.05"/><circle cx="328.3" cy="232.0" r="1.05"/><circle cx="330.9" cy="232.1" r="1.05"/><circle cx="333.5" cy="231.7" r="1.05"/><circle cx="327.6" cy="235.0" r="1.05"/><circle cx="330.2" cy="235.1" r="1.05"/><circle cx="332.8" cy="235.3" r="1.05"/><circle cx="329.3" cy="237.6" r="1.05"/><circle cx="331.9" cy="237.8" r="1.05"/><circle cx="328.7" cy="240.6" r="1.05"/><circle cx="331.3" cy="241.3" r="1.05"/><circle cx="330.4" cy="244.2" r="1.05"/><circle cx="333.0" cy="243.5" r="1.05"/></g>
<rect x="328" y="249" width="6.5" height="4" rx="1.5" fill="#fff" stroke="#777" stroke-width="0.6"/><rect x="327.5" y="253.5" width="7.5" height="4.5" rx="1.5" fill="#fff" stroke="#777" stroke-width="0.6"/>
<text x="316.8" y="230.6" font-size="6.3" fill="#222" stroke="#222" stroke-width="0.35" text-anchor="middle" font-weight="normal">原</text><text x="316.8" y="237.9" font-size="6.3" fill="#222" stroke="#222" stroke-width="0.35" text-anchor="middle" font-weight="normal">煤</text><text x="316.8" y="245.2" font-size="6.3" fill="#222" stroke="#222" stroke-width="0.35" text-anchor="middle" font-weight="normal">斗</text>
<text x="322.2" y="252.4" font-size="6.3" fill="#222" stroke="#222" stroke-width="0.35" text-anchor="middle" font-weight="normal">给</text><text x="322.2" y="259.0" font-size="6.3" fill="#222" stroke="#222" stroke-width="0.35" text-anchor="middle" font-weight="normal">煤</text><text x="322.2" y="265.6" font-size="6.3" fill="#222" stroke="#222" stroke-width="0.35" text-anchor="middle" font-weight="normal">机</text>
<rect x="340.7" y="222.3" width="18" height="3.6" fill="#f4f4f4" stroke="#666" stroke-width="0.6"/>
<path d="M341 226 L358.5 226 L353 246 L346.5 246 Z" fill="#fff" stroke="#666" stroke-width="0.6"/>
<path d="M343.3 235 L356.3 235 L353 246 L346.5 246 Z" fill="#8a8ae4"/>
<rect x="346.5" y="247" width="6.5" height="4" rx="1.5" fill="#fff" stroke="#777" stroke-width="0.6"/><rect x="346" y="251.5" width="7.5" height="4.5" rx="1.5" fill="#fff" stroke="#777" stroke-width="0.6"/>
<path d="M347 186 L352 183.5 L353.5 192 L346.5 192 Z" fill="#c8c8f4" stroke="#5050d0" stroke-width="0.7"/>
<path d="M346.5 192 L353.5 192 L353.5 211 L346.5 211 Z" fill="#b4b4f0" stroke="#5050d0" stroke-width="0.7"/>
<path d="M346.5 211 L353.5 211 L352 219.5 L348 219.5 Z" fill="#d4d4f8" stroke="#5050d0" stroke-width="0.7"/>
<path d="M349 219.5 l0 3 M351 219.5 l0 3" stroke="#777" stroke-width="0.6"/>
<text x="340.4" y="191.0" font-size="6.5" fill="#222" stroke="#222" stroke-width="0.35" text-anchor="middle" font-weight="normal">旋</text><text x="340.4" y="197.5" font-size="6.5" fill="#222" stroke="#222" stroke-width="0.35" text-anchor="middle" font-weight="normal">风</text><text x="340.4" y="204.0" font-size="6.5" fill="#222" stroke="#222" stroke-width="0.35" text-anchor="middle" font-weight="normal">分</text><text x="340.4" y="210.5" font-size="6.5" fill="#222" stroke="#222" stroke-width="0.35" text-anchor="middle" font-weight="normal">离</text><text x="340.4" y="217.0" font-size="6.5" fill="#222" stroke="#222" stroke-width="0.35" text-anchor="middle" font-weight="normal">器</text>
<text x="355" y="220" font-size="6.8" fill="#222" stroke="#222" stroke-width="0.35" text-anchor="start" font-weight="normal">煤粉仓</text>
<path d="M352 189.6 L391 189.6 L391 232.2 L357 232.2" fill="none" stroke="#c6c6f4" stroke-width="3.4"/>
<path d="M352 187.7 L392.7 187.7 L392.7 233.9 L357 233.9" fill="none" stroke="#3434c4" stroke-width="1.5"/>
<path d="M390 190.8 L390 231" fill="none" stroke="#f4f4fe" stroke-width="0.8"/>
<path d="M353 194.3 L384.6 194.3 L384.6 236" fill="none" stroke="#c6c6f4" stroke-width="3.2"/>
<path d="M353 192.6 L386.3 192.6 L386.3 236" fill="none" stroke="#3434c4" stroke-width="1.4"/>
<path d="M383.3 196 L383.3 236" fill="none" stroke="#8a8ae8" stroke-width="0.6"/>
<path d="M388.5 186.5 L394 189 L394 192 L390 192 Z M382.5 191.5 L387.5 194 L387.5 197 L383.5 197 Z M388.5 231 L394 231 L394 234.5 L389 235.5 Z" fill="#d8d8f8" stroke="#5050d0" stroke-width="0.6"/>
<path d="M384.6 236 L384.6 262" fill="none" stroke="#c6c6f4" stroke-width="3.2"/><path d="M384.6 236 L384.6 270" fill="none" stroke="#3434c4" stroke-width="1.2"/>
<line x1="383.3" y1="219" x2="383.3" y2="213" stroke="#222" stroke-width="1.1"/><path d="M383.3 213L381.68 215.70L384.92 215.70Z" fill="#222"/>
<path d="M376.5 238.5 L390 238.5 L385.5 255.5 L381 255.5 Z" fill="#fff" stroke="#5050d0" stroke-width="0.9"/>
<path d="M378 240.5 L388.5 240.5" stroke="#8888e0" stroke-width="0.6"/>
<path d="M347 260.8 L398 260.8" stroke="#3c3cc8" stroke-width="1.4"/><path d="M347 262.3 L398 262.3" stroke="#c4c4f4" stroke-width="1.2"/>
<path d="M347.5 255 L347.5 260.5" stroke="#333" stroke-width="0.8"/>
<path d="M339.5 236 L339.5 262 Q339.5 265.5 342.5 265.5" fill="none" stroke="#3c3cc8" stroke-width="3.6"/><path d="M339.9 236 L339.9 262 Q339.9 264.6 342.5 264.6" fill="none" stroke="#e8e8fc" stroke-width="1.6"/>
<rect x="397.5" y="259.3" width="6" height="4.2" rx="1.6" fill="#5a7ad8"/>
<text x="354.5" y="248.3" font-size="4.3" fill="#222" stroke="#222" stroke-width="0.35" text-anchor="start" font-weight="normal">细粉分离器</text>
<text x="362" y="257.3" font-size="5" fill="#222" stroke="#222" stroke-width="0.35" text-anchor="start" font-weight="normal">给粉机</text>
<rect x="354.5" y="251.3" width="4.5" height="2.4" fill="#2a2a8a"/><rect x="354.5" y="253.7" width="4.5" height="1" fill="#aab"/>
<text x="349" y="266.3" font-size="5.2" fill="#222" stroke="#222" stroke-width="0.35" text-anchor="start" font-weight="normal">排粉机</text>
<text x="389" y="258.3" font-size="5" fill="#222" stroke="#222" stroke-width="0.35" text-anchor="start" font-weight="normal">二次风</text>
<path d="M408 278.2 L324 278.2 Q320.5 278.2 320.5 281.7 L320.5 310 Q320.5 313.5 324 313.5 L337.7 313.5" fill="none" stroke="#f6ead2" stroke-width="3.2" stroke-linejoin="round"/><path d="M408 278.2 L324 278.2 Q320.5 278.2 320.5 281.7 L320.5 310 Q320.5 313.5 324 313.5 L337.7 313.5" fill="none" stroke="#e4ae5e" stroke-width="1.5" stroke-linejoin="round"/>
<path d="M393.3 262 L393.3 338" fill="none" stroke="#f6ead2" stroke-width="3.2" stroke-linejoin="round"/><path d="M393.3 262 L393.3 338" fill="none" stroke="#e4ae5e" stroke-width="1.5" stroke-linejoin="round"/>
<path d="M403.5 257 L403.5 278" fill="none" stroke="#f6ead2" stroke-width="3.2" stroke-linejoin="round"/><path d="M403.5 257 L403.5 278" fill="none" stroke="#e4ae5e" stroke-width="1.5" stroke-linejoin="round"/>
<path d="M322.97 303.47 L382.17 258.47" stroke="#2a2ab8" stroke-width="1.7"/>
<path d="M321.09 301.01 L380.29 256.01" stroke="#6c6cdc" stroke-width="1.3"/>
<path d="M327.5 262 L327.5 307.5 Q327.5 311 331 311 L338 311" fill="none" stroke="#c4c4f4" stroke-width="3.4"/>
<path d="M326 262 L326 308 Q326 312.5 330.5 312.5 L338 312.5" fill="none" stroke="#3c3cc8" stroke-width="1.2"/>
<path d="M383.2 262 L383.2 307.5 Q383.2 311 379.7 311 L375 311" fill="none" stroke="#c4c4f4" stroke-width="3.4"/>
<path d="M384.8 270 L384.8 308 Q384.8 312.6 380.2 312.6 L375 312.6" fill="none" stroke="#3c3cc8" stroke-width="1.2"/>
<defs><linearGradient id="gMill" x1="0" y1="0" x2="0" y2="1"><stop offset="0" stop-color="#8c92e4"/><stop offset="0.45" stop-color="#eef0fc"/><stop offset="1" stop-color="#9ca2e8"/></linearGradient><linearGradient id="gSup" x1="0" y1="0" x2="1" y2="0"><stop offset="0" stop-color="#3a40e0"/><stop offset="1" stop-color="#1c22a8"/></linearGradient></defs>
<path d="M342.8 306 L347 303.3 L366.5 303.3 L370.8 306 L370.8 316.5 L366.5 319.3 L347 319.3 L342.8 316.5 Z" fill="url(#gMill)" stroke="#7a80dc" stroke-width="0.6"/>
<path d="M347 303.3 L347 319.3 M366.5 303.3 L366.5 319.3" stroke="#a8acec" stroke-width="0.6"/>
<rect x="349.7" y="306" width="12.3" height="9.2" fill="#5a60d4"/>
<line x1="350.5" y1="307.2" x2="361.2" y2="307.2" stroke="#c8ccf6" stroke-width="0.6"/>
<line x1="350.5" y1="309.0" x2="361.2" y2="309.0" stroke="#c8ccf6" stroke-width="0.6"/>
<line x1="350.5" y1="310.8" x2="361.2" y2="310.8" stroke="#c8ccf6" stroke-width="0.6"/>
<line x1="350.5" y1="312.6" x2="361.2" y2="312.6" stroke="#c8ccf6" stroke-width="0.6"/>
<line x1="350.5" y1="314.4" x2="361.2" y2="314.4" stroke="#c8ccf6" stroke-width="0.6"/>
<path d="M338.3 305.5 L342.4 305.5 L342.4 318.9 L343.8 318.9 L343.8 321.2 L336.4 321.2 L336.4 318.9 L338.3 318.9 Z" fill="url(#gSup)"/>
<path d="M370.8 305.5 L375 305.5 L375 318.9 L376.8 318.9 L376.8 321.2 L369 321.2 L369 318.9 L370.8 318.9 Z" fill="url(#gSup)"/>
<line x1="328" y1="321.7" x2="385" y2="321.7" stroke="#333" stroke-width="0.9"/><path d="M330.0 321.7l-2.4 3.0M335.5 321.7l-2.4 3.0M341.0 321.7l-2.4 3.0M346.5 321.7l-2.4 3.0M352.0 321.7l-2.4 3.0M357.5 321.7l-2.4 3.0M363.0 321.7l-2.4 3.0M368.5 321.7l-2.4 3.0M374.0 321.7l-2.4 3.0M379.5 321.7l-2.4 3.0" stroke="#333" stroke-width="0.9" fill="none"/>
<text x="345.2" y="302" font-size="6.8" fill="#222" stroke="#222" stroke-width="0.35" text-anchor="start" font-weight="normal">磨煤机</text>
<text x="356.5" y="290.5" font-size="6.8" fill="#222" stroke="#222" stroke-width="0.35" text-anchor="start" font-weight="normal">热风道</text>
<line x1="381" y1="278.2" x2="374" y2="278.2" stroke="#c01818" stroke-width="0.9"/><path d="M374 278.2L376.00 279.40L376.00 277.00Z" fill="#c01818"/>
<line x1="345" y1="278.2" x2="338" y2="278.2" stroke="#c01818" stroke-width="0.9"/><path d="M338 278.2L340.00 279.40L340.00 277.00Z" fill="#c01818"/>
<line x1="320.5" y1="288" x2="320.5" y2="294" stroke="#c01818" stroke-width="0.9"/><path d="M320.5 294L321.70 292.00L319.30 292.00Z" fill="#c01818"/>
<line x1="329" y1="313.5" x2="336" y2="313.5" stroke="#c01818" stroke-width="0.9"/><path d="M336 313.5L334.00 312.30L334.00 314.70Z" fill="#c01818"/>
<line x1="401.5" y1="275" x2="401.5" y2="268" stroke="#c01818" stroke-width="0.9"/><path d="M401.5 268L400.30 270.00L402.70 270.00Z" fill="#c01818"/>
<path d="M408 176 L486.7 174.2 L486.7 231.7 L462.3 231.7 L462.3 206 L439 206 L432.3 212.3 L444 222.5 L444 267.5 L432 286.9 L420.2 286.9 L407.8 265 Z" fill="url(#gBoil)"/>
<path d="M432.3 212.3 L439 206 L462.3 206 L462.3 232 L444.3 232 L444.3 222.7 Z" fill="#fff"/>
<path d="M432.3 212.3 L439 206 L462.3 206 L462.3 232" fill="none" stroke="#101a80" stroke-width="2.2" stroke-linejoin="miter"/>
<path d="M432.3 212.3 L444.3 222.7 L444.3 267.5 L432 286.9 L420.2 286.9 L407.8 265 L407.8 183" fill="none" stroke="#101a80" stroke-width="2.2" stroke-linejoin="miter"/>
<path d="M413 174.2 L486.7 174.2 L486.7 232" fill="none" stroke="#101a80" stroke-width="2.2"/>
<path d="M425 177 L425 197 A5.4 5.4 0 0 0 435.8 197 L435.8 182 A4.1 4.1 0 0 1 444 182 L444 197 A4.5 4.5 0 0 0 453 197 L453 177" fill="none" stroke="#e02010" stroke-width="2.2"/>
<path d="M421 174 Q424 169.5 426.5 169.5 Q429 169.5 431.5 174 M448 174 Q451 169.5 453 169.5 Q455 169.5 458 174" fill="#fbfefe" stroke="#6a6ae0" stroke-width="0.8"/>
<circle cx="407.5" cy="176" r="6.3" fill="#ffffff" stroke="#f2b0a8" stroke-width="0.5"/>
<path d="M401.7 174.5 A6 6 0 0 1 413.3 174.5" fill="none" stroke="#f0a098" stroke-width="1.3"/>
<circle cx="407.5" cy="176.8" r="4.3" fill="#3a5ad8"/>
<path d="M406 173.6 l0 6.6 M409 173.6 l0 6.6" stroke="#bfe6ff" stroke-width="1"/>
<path d="M407.5 167.5 L407.5 153.8 L452.9 153.8 L452.9 171.3" fill="none" stroke="#e4ae5c" stroke-width="2.6"/>
<path d="M407.5 167.5 L407.5 153.8 L452.9 153.8 L452.9 171.3" fill="none" stroke="#f8ecd4" stroke-width="0.9"/>
<path d="M395 168 L424 168 L427 171" fill="none" stroke="#f6ead2" stroke-width="3.0" stroke-linejoin="round"/><path d="M395 168 L424 168 L427 171" fill="none" stroke="#e4ae5e" stroke-width="1.5" stroke-linejoin="round"/>
<text x="414" y="151.5" font-size="7" fill="#222" stroke="#222" stroke-width="0.35" text-anchor="start" font-weight="normal">饱和蒸汽管</text>
<text x="455.8" y="190.5" font-size="6.8" fill="#222" stroke="#222" stroke-width="0.35" text-anchor="start" font-weight="normal">过热器</text>
<text x="464" y="204.5" font-size="6.8" fill="#222" stroke="#222" stroke-width="0.35" text-anchor="start" font-weight="normal">省煤器</text>
<text x="444" y="218" font-size="6.8" fill="#222" stroke="#222" stroke-width="0.35" text-anchor="start" font-weight="normal">锅炉</text>
<text x="414" y="218" font-size="6.8" fill="#222" stroke="#222" stroke-width="0.35" text-anchor="start" font-weight="normal">炉膛</text>
<text x="463" y="158.3" font-size="6.8" fill="#222" stroke="#222" stroke-width="0.35" text-anchor="start" font-weight="normal">给水管</text>
<path d="M484 207.2 L467 207.2 A2.15 2.15 0 0 0 467 211.5 L482 211.5 A2 2 0 0 1 482 215.5 L467 215.5 A2 2 0 0 0 467 219.5 L482 219.5 A2 2 0 0 1 482 223.5 L467 223.5 A1.75 1.75 0 0 0 467 227 L484 227" fill="none" stroke="#5a52b0" stroke-width="1.5"/>
<path d="M409.3 268.7 L409.3 257.8 L412.2 249.5 L415.2 246.6 L416.8 242.0 L418.5 244.0 L422.7 242.0 L427.7 238.7 L430.2 235.3 L430.2 230.3 L432.7 234.5 L435.2 232.8 L437.2 228.7 L438.0 236.2 L437.7 242.8 L440.2 244.5 L436.8 250.3 L435.2 255.3 L441.8 255.3 L439.3 261.2 L433.5 266.2 L426.8 268.7 L418.5 269.5 L411.0 268.7 Z" fill="#d82e14" stroke="#d82e14" stroke-width="0.6" stroke-linejoin="round"/>
<path d="M409.3 262.0 L411.0 255.3 L415.2 250.3 L419.3 248.7 L422.7 247.0 L426.0 243.7 L427.7 242.0 L429.3 244.5 L431.0 240.3 L431.8 247.0 L430.2 252.0 L433.5 255.3 L430.2 259.5 L427.7 263.7 L422.7 267.0 L416.0 267.0 L409.3 265.3 Z" fill="#eeee2a" stroke="#eeee2a" stroke-width="0.5" stroke-linejoin="round"/>
<path d="M410.2 262.8 L412.7 258.7 L416.0 256.2 L419.3 254.5 L422.7 252.0 L424.3 249.5 L426.0 248.7 L426.0 252.8 L423.5 257.0 L422.7 260.3 L418.5 263.7 L412.7 264.5 Z" fill="#ffffff" stroke="#ffffff" stroke-width="0.5" stroke-linejoin="round"/>
<path d="M418 287.5 L434.5 287.5 L438.5 291.5 L438.5 300.8 L414.2 300.8 L414.2 291.5 Z" fill="#fff" stroke="#666" stroke-width="0.8"/>
<text x="398.3" y="298.5" font-size="6.8" fill="#222" stroke="#222" stroke-width="0.35" text-anchor="start" font-weight="normal">灰斗</text>
<line x1="425" y1="302" x2="425" y2="309" stroke="#222" stroke-width="1.2"/><path d="M425 309L426.62 306.30L423.38 306.30Z" fill="#222"/>
<path d="M461.3 232.4 C452 230.6 445.3 234 445.3 242 L445.3 268 L433.6 286 C444 284 453.3 276 453.3 266 L453.3 253 C453.3 247.5 456 244.5 461.3 244.5 Z" fill="#f4f2d6" stroke="#7a7a7a" stroke-width="0.8"/>
<path d="M461.3 244.5 C456 244.5 453.3 247 453.3 253 L453.3 263 C453.3 267 456 268.5 461.3 268.5 Z" fill="#f4dcb4" stroke="#7a7a7a" stroke-width="0.7"/>
<path d="M455 237.2 Q451.5 239 450 242.5 M457.3 251.5 L457.3 259 M448.5 278 Q445.5 280 442.5 280.5" fill="none" stroke="#f07020" stroke-width="1.5"/>
<path d="M448.6 244.5 L449 240.6 L451.8 242.6 Z M455.6 260 L459 260 L457.3 263 Z M440.5 281 L443.5 278.8 L443.8 282.2 Z" fill="#f07020"/>
<path d="M485.5 232.5 L488 232.5 Q493.5 233 493.5 240 L493.5 255 Q493.5 258.5 490 259 L485.5 259 Z" fill="#f2dcb4" stroke="#8a8a8a" stroke-width="0.6"/>
<path d="M485.5 260 Q492 259 498 258 Q503 256.5 505.5 258 L506 266 Q500 264 494 267 Q490 268.5 485.5 268 Z" fill="#f2dcb4" stroke="#8a8a8a" stroke-width="0.6"/>
<path d="M489.5 241 Q491 245 489.5 250 M497 261.5 Q493 262.5 490 265" fill="none" stroke="#f07020" stroke-width="1.5"/>
<rect x="461.5" y="231.7" width="24" height="11.300000000000011" fill="#f4f4fd" stroke="#8a8ae2" stroke-width="0.8"/>
<rect x="463.5" y="233.2" width="20" height="8.300000000000011" fill="#e2e4f8"/>
<line x1="465.0" y1="233.2" x2="465.0" y2="241.5" stroke="#c4c6ee" stroke-width="0.45"/>
<line x1="467.8" y1="233.2" x2="467.8" y2="241.5" stroke="#c4c6ee" stroke-width="0.45"/>
<line x1="470.6" y1="233.2" x2="470.6" y2="241.5" stroke="#c4c6ee" stroke-width="0.45"/>
<line x1="473.4" y1="233.2" x2="473.4" y2="241.5" stroke="#c4c6ee" stroke-width="0.45"/>
<line x1="476.2" y1="233.2" x2="476.2" y2="241.5" stroke="#c4c6ee" stroke-width="0.45"/>
<line x1="479.0" y1="233.2" x2="479.0" y2="241.5" stroke="#c4c6ee" stroke-width="0.45"/>
<line x1="481.8" y1="233.2" x2="481.8" y2="241.5" stroke="#c4c6ee" stroke-width="0.45"/>
<rect x="461.5" y="243" width="24" height="12" fill="#f4f4fd" stroke="#8a8ae2" stroke-width="0.8"/>
<rect x="463.5" y="244.5" width="20" height="9" fill="#e2e4f8"/>
<line x1="465.0" y1="244.5" x2="465.0" y2="253.5" stroke="#c4c6ee" stroke-width="0.45"/>
<line x1="467.8" y1="244.5" x2="467.8" y2="253.5" stroke="#c4c6ee" stroke-width="0.45"/>
<line x1="470.6" y1="244.5" x2="470.6" y2="253.5" stroke="#c4c6ee" stroke-width="0.45"/>
<line x1="473.4" y1="244.5" x2="473.4" y2="253.5" stroke="#c4c6ee" stroke-width="0.45"/>
<line x1="476.2" y1="244.5" x2="476.2" y2="253.5" stroke="#c4c6ee" stroke-width="0.45"/>
<line x1="479.0" y1="244.5" x2="479.0" y2="253.5" stroke="#c4c6ee" stroke-width="0.45"/>
<line x1="481.8" y1="244.5" x2="481.8" y2="253.5" stroke="#c4c6ee" stroke-width="0.45"/>
<rect x="461.5" y="255" width="24" height="12" fill="#f4f4fd" stroke="#8a8ae2" stroke-width="0.8"/>
<rect x="463.5" y="256.5" width="20" height="9" fill="#e2e4f8"/>
<line x1="465.0" y1="256.5" x2="465.0" y2="265.5" stroke="#c4c6ee" stroke-width="0.45"/>
<line x1="467.8" y1="256.5" x2="467.8" y2="265.5" stroke="#c4c6ee" stroke-width="0.45"/>
<line x1="470.6" y1="256.5" x2="470.6" y2="265.5" stroke="#c4c6ee" stroke-width="0.45"/>
<line x1="473.4" y1="256.5" x2="473.4" y2="265.5" stroke="#c4c6ee" stroke-width="0.45"/>
<line x1="476.2" y1="256.5" x2="476.2" y2="265.5" stroke="#c4c6ee" stroke-width="0.45"/>
<line x1="479.0" y1="256.5" x2="479.0" y2="265.5" stroke="#c4c6ee" stroke-width="0.45"/>
<line x1="481.8" y1="256.5" x2="481.8" y2="265.5" stroke="#c4c6ee" stroke-width="0.45"/>
<rect x="461.5" y="267" width="24" height="9" fill="#fff" stroke="#8a8ae2" stroke-width="0.7"/>
<path d="M485 272 L522.5 272 M461.5 276 L505 276" stroke="#9a9ae6" stroke-width="0.9" fill="none"/>
<path d="M505 277 L522 277" stroke="#666" stroke-width="1"/>
<line x1="486" y1="269.2" x2="521" y2="269.2" stroke="#333" stroke-width="0.9"/><path d="M488.0 269.2l-2.1 2.6M493.0 269.2l-2.1 2.6M498.0 269.2l-2.1 2.6M503.0 269.2l-2.1 2.6M508.0 269.2l-2.1 2.6M513.0 269.2l-2.1 2.6M518.0 269.2l-2.1 2.6" stroke="#333" stroke-width="0.9" fill="none"/>
<line x1="455" y1="268.5" x2="461.5" y2="268.5" stroke="#333" stroke-width="0.9"/><path d="M457.0 268.5l-2.1 2.6M461.0 268.5l-2.1 2.6" stroke="#333" stroke-width="0.9" fill="none"/>
<text x="499.2" y="228.5" font-size="6.3" fill="#222" stroke="#222" stroke-width="0.35" text-anchor="middle" font-weight="normal">空</text><text x="499.2" y="235.0" font-size="6.3" fill="#222" stroke="#222" stroke-width="0.35" text-anchor="middle" font-weight="normal">气</text><text x="499.2" y="241.5" font-size="6.3" fill="#222" stroke="#222" stroke-width="0.35" text-anchor="middle" font-weight="normal">预</text><text x="499.2" y="248.0" font-size="6.3" fill="#222" stroke="#222" stroke-width="0.35" text-anchor="middle" font-weight="normal">热</text><text x="499.2" y="254.5" font-size="6.3" fill="#222" stroke="#222" stroke-width="0.35" text-anchor="middle" font-weight="normal">器</text>
<text x="517.7" y="251.0" font-size="6.3" fill="#222" stroke="#222" stroke-width="0.35" text-anchor="middle" font-weight="normal">送</text><text x="517.7" y="257.8" font-size="6.3" fill="#222" stroke="#222" stroke-width="0.35" text-anchor="middle" font-weight="normal">风</text><text x="517.7" y="264.6" font-size="6.3" fill="#222" stroke="#222" stroke-width="0.35" text-anchor="middle" font-weight="normal">机</text>
<path d="M501 262 Q501 256.5 509.3 256.5 Q515 256.5 516 260 L516 268 L503 268 Z" fill="#fff" stroke="#666" stroke-width="0.7"/>
<circle cx="509.3" cy="262.3" r="3" fill="#fff" stroke="#444" stroke-width="0.8"/><circle cx="509.3" cy="262.3" r="1.2" fill="none" stroke="#444" stroke-width="0.7"/>
<path d="M505 259 L505 230 Q503 220 503 210 L503 172 Q503 168 508 167" fill="none" stroke="#888" stroke-width="0.8"/>
<path d="M510.5 259 L510.5 230 Q508 220 508 212 L508 175" fill="none" stroke="#888" stroke-width="0.8"/>
<rect x="508.3" y="166.5" width="1.6" height="9" fill="#222"/>
<line x1="517" y1="171" x2="511.5" y2="171" stroke="#222" stroke-width="1.2"/><path d="M511.5 171L514.20 172.62L514.20 169.38Z" fill="#222"/>
<rect x="499.8" y="176.5" width="1.6" height="8" fill="#222"/>
<line x1="493" y1="180.5" x2="499" y2="180.5" stroke="#222" stroke-width="1.2"/><path d="M499 180.5L496.30 178.88L496.30 182.12Z" fill="#222"/>
<text x="502" y="165" font-size="6.8" fill="#222" stroke="#222" stroke-width="0.35" text-anchor="start" font-weight="normal">吸风口</text>
<path d="M529.5 141 L537.5 141 L542 231.3 L525.3 231.3 Z" fill="url(#gChim)" stroke="#3a3a3a" stroke-width="0.7"/>
<rect x="529" y="138.6" width="8.8" height="2.8" rx="1" fill="#e8eef2" stroke="#333" stroke-width="0.8"/>
<line x1="512" y1="231.5" x2="563" y2="231.5" stroke="#333" stroke-width="0.9"/><path d="M514.0 231.5l-2.1 2.6M519.0 231.5l-2.1 2.6M524.0 231.5l-2.1 2.6M529.0 231.5l-2.1 2.6M534.0 231.5l-2.1 2.6M539.0 231.5l-2.1 2.6M544.0 231.5l-2.1 2.6M549.0 231.5l-2.1 2.6M554.0 231.5l-2.1 2.6M559.0 231.5l-2.1 2.6" stroke="#333" stroke-width="0.9" fill="none"/>
<text x="541.7" y="177.3" font-size="6.8" fill="#222" stroke="#222" stroke-width="0.35" text-anchor="start" font-weight="normal">烟囱</text>
<path d="M560 226 L569.8 226 L569.8 271.8 L562.5 271.8" fill="none" stroke="#8484ea" stroke-width="5" stroke-linejoin="round"/>
<path d="M560 226 L569.8 226 L569.8 271.8 L562.5 271.8" fill="none" stroke="#f0f0fe" stroke-width="2.6" stroke-linejoin="round"/>
<path d="M567 222.5 Q573.5 222 573 228.5 L567 228.5 Z M567 268.5 L573 268.5 Q573 275 567 274.5 Z" fill="#c8c8f6" stroke="#8484ea" stroke-width="0.7"/>
<rect x="542" y="221.5" width="12" height="7.5" fill="#fff" stroke="#888" stroke-width="0.6"/>
<rect x="549" y="221.9" width="10.6" height="7.6" rx="3.5" fill="#fff" stroke="#888" stroke-width="0.7"/>
<circle cx="555.5" cy="226" r="2.4" fill="#fff" stroke="#444" stroke-width="0.8"/><circle cx="555.5" cy="226" r="0.9" fill="none" stroke="#444" stroke-width="0.6"/>
<text x="548" y="219.5" font-size="6.8" fill="#222" stroke="#222" stroke-width="0.35" text-anchor="start" font-weight="normal">引风机</text>
<rect x="522.5" y="262" width="5" height="18" rx="2" fill="#c8c8f4" stroke="#8888e0" stroke-width="0.5"/>
<rect x="558.5" y="262" width="5" height="18" rx="2" fill="#c8c8f4" stroke="#8888e0" stroke-width="0.5"/>
<rect x="526.7" y="255.3" width="32.5" height="32.7" fill="#fafafa" stroke="#777" stroke-width="0.8"/>
<text x="533.3" y="275.5" font-size="7" fill="#222" stroke="#222" stroke-width="0.35" text-anchor="start" font-weight="normal">除尘器</text>
<path d="M527.2 288 L537.2 288 L533.7 301.5 L530.7 301.5 Z" fill="#c8cbf4" stroke="#8a8ee0" stroke-width="0.6"/>
<line x1="532.2" y1="303" x2="532.2" y2="309.5" stroke="#222" stroke-width="1.2"/><path d="M532.2 309.5L533.82 306.80L530.58 306.80Z" fill="#222"/>
<path d="M538.5 288 L548.5 288 L545.0 301.5 L542.0 301.5 Z" fill="#c8cbf4" stroke="#8a8ee0" stroke-width="0.6"/>
<line x1="543.5" y1="303" x2="543.5" y2="309.5" stroke="#222" stroke-width="1.2"/><path d="M543.5 309.5L545.12 306.80L541.88 306.80Z" fill="#222"/>
<path d="M549 288 L559 288 L555.5 301.5 L552.5 301.5 Z" fill="#c8cbf4" stroke="#8a8ee0" stroke-width="0.6"/>
<line x1="554" y1="303" x2="554" y2="309.5" stroke="#222" stroke-width="1.2"/><path d="M554 309.5L555.62 306.80L552.38 306.80Z" fill="#222"/>
<path d="M418 311 L556 311 M418 318.5 L556 318.5" stroke="#8888e4" stroke-width="1"/>
<circle cx="418.3" cy="315" r="3.3" fill="#a0a4ec" stroke="#5558d8" stroke-width="0.8"/>
<circle cx="556.2" cy="314.7" r="3.3" fill="#a0a4ec" stroke="#5558d8" stroke-width="0.8"/>
<text x="495.5" y="327" font-size="6.5" fill="#222" stroke="#222" stroke-width="0.35" text-anchor="start" font-weight="normal">至除灰/除渣系统</text>
<line x1="552" y1="324" x2="558.5" y2="324" stroke="#222" stroke-width="1.2"/><path d="M558.5 324L555.80 322.38L555.80 325.62Z" fill="#222"/>
<path d="M485 272 L522.5 272" stroke="#b8b8f0" stroke-width="3"/>
<path d="M393.3 338 L393.3 336" fill="none" stroke="#f6ead2" stroke-width="3.2" stroke-linejoin="round"/><path d="M393.3 338 L393.3 336" fill="none" stroke="#e4ae5e" stroke-width="1.5" stroke-linejoin="round"/>
<path d="M386 336.3 L412 336.3 A5.5 5.25 0 0 1 412 346.8 L386 346.8 A5.5 5.25 0 0 1 386 336.3 Z" fill="#fbf3d0" stroke="#999" stroke-width="0.7"/>
<path d="M384 337.5 l0 8 M414 337.5 l0 8" stroke="#999" stroke-width="0.5"/>
<path d="M387 338.8 L411 338.8 M387 341.5 L411 341.5 M387 344.2 L411 344.2" stroke="#e8c060" stroke-width="0.9"/>
<text x="381.7" y="354.3" font-size="6.8" fill="#222" stroke="#222" stroke-width="0.35" text-anchor="start" font-weight="normal">加热器</text>
<line x1="395.8" y1="334" x2="395.8" y2="327" stroke="#222" stroke-width="1.2"/><path d="M395.8 327L394.18 329.70L397.42 329.70Z" fill="#222"/>
<path d="M405 347 Q405 352.6 410 352.6 L433 352.6" fill="none" stroke="#f6ead2" stroke-width="3.2" stroke-linejoin="round"/><path d="M405 347 Q405 352.6 410 352.6 L433 352.6" fill="none" stroke="#e4ae5e" stroke-width="1.5" stroke-linejoin="round"/>
<path d="M474 352.6 L480 352.6" fill="none" stroke="#f6ead2" stroke-width="3.2" stroke-linejoin="round"/><path d="M474 352.6 L480 352.6" fill="none" stroke="#e4ae5e" stroke-width="1.5" stroke-linejoin="round"/>
<path d="M433 341 L433 358 Q453.3 368 473.7 358 L473.7 341 Z" fill="url(#gTank)"/>
<ellipse cx="453.3" cy="341" rx="20.35" ry="5" fill="#c4c6f2"/>
<path d="M404 349.5 Q403 351 405 352" stroke="#6a6ae0" stroke-width="0.8" fill="none"/>
<line x1="427" y1="348.4" x2="419" y2="348.4" stroke="#222" stroke-width="1.2"/><path d="M419 348.4L421.70 350.02L421.70 346.78Z" fill="#222"/>
<line x1="489" y1="352" x2="482" y2="352" stroke="#222" stroke-width="1.2"/><path d="M482 352L484.70 353.62L484.70 350.38Z" fill="#222"/>
<text x="438.8" y="333" font-size="6.8" fill="#222" stroke="#222" stroke-width="0.35" text-anchor="start" font-weight="normal">燃料油槽</text>
<text x="491.2" y="355" font-size="6.8" fill="#222" stroke="#222" stroke-width="0.35" text-anchor="start" font-weight="normal">燃料油</text>
<text x="233.6" y="413.3" font-size="12.5" fill="#262626"><tspan stroke="#262626" stroke-width="0.55">DCS</tspan><tspan stroke="#262626" stroke-width="0.4">系统在电厂的应用</tspan></text>
</svg></body></html>
